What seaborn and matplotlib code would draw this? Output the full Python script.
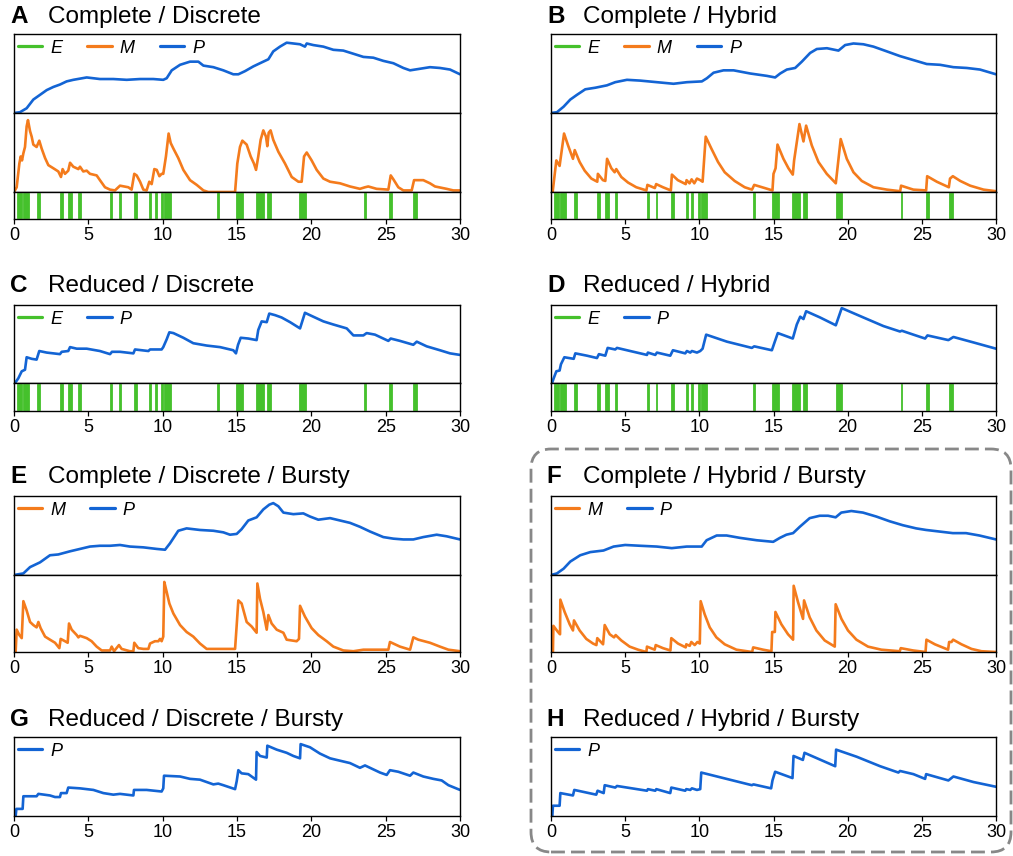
import matplotlib
matplotlib.use("Agg")
import matplotlib.pyplot as plt
import seaborn as sns
from matplotlib.lines import Line2D
from matplotlib.patches import FancyBboxPatch

# ---------------- data (time in h, values in % of axis height) ----------------
EVENT_START = [0.18, 0.58, 1.57, 3.09, 3.63, 4.33, 6.46, 7.06, 8.09, 9.10, 9.46, 9.89, 10.09,
               13.65, 14.93, 16.28, 17.02, 19.20, 23.57, 25.25, 26.82]
EVENT_END = [0.52, 0.99, 1.75, 3.27, 3.90, 4.48, 6.61, 7.17, 8.27, 9.21, 9.60, 10.04, 10.54,
             13.77, 15.38, 16.79, 17.26, 19.64, 23.68, 25.45, 27.13]

A_P_t = [0, 0.40, 0.85, 1.30, 1.75, 2.20, 2.65, 3.09, 3.54, 3.99, 4.89, 5.78, 6.68, 7.58, 8.48, 9.37,
         10.04, 10.27, 10.61, 11.17, 11.84, 12.40, 12.74, 13.41, 14.08, 14.75, 15.09, 15.54, 16.10,
         16.77, 17.11, 17.44, 17.89, 18.34, 18.79, 19.24, 19.57, 19.69, 20.13, 20.81, 21.48, 22.15,
         22.83, 23.50, 24.17, 24.84, 25.52, 26.19, 26.64, 27.31, 27.98, 28.65, 29.33, 30.00]
A_P_v = [0, 1, 6, 17, 23, 29, 33, 36, 40, 42, 45, 43, 43, 42, 43, 43, 42, 44, 54, 61, 65, 65, 60, 58,
         54, 49, 49, 53, 59, 65, 68, 78, 84, 89, 88, 87, 84, 88, 86, 84, 80, 79, 75, 71, 70, 66, 63,
         57, 54, 56, 58, 57, 55, 49]

A_M_t = [0, 0.18, 0.36, 0.45, 0.54, 0.63, 0.74, 0.85, 0.94, 1.08, 1.19, 1.30, 1.52, 1.70, 1.86, 2.09,
         2.31, 2.65, 2.98, 3.16, 3.27, 3.43, 3.65, 3.77, 3.99, 4.33, 4.44, 4.66, 4.89, 5.11, 5.56,
         5.78, 6.12, 6.46, 6.79, 7.13, 7.69, 7.91, 8.09, 8.25, 8.48, 8.70, 8.92, 9.10, 9.26, 9.44,
         9.60, 9.78, 9.93, 10.04, 10.22, 10.40, 10.54, 10.72, 11.05, 11.39, 11.84, 12.29, 12.74,
         13.07, 14.87, 15.02, 15.20, 15.36, 15.65, 15.92, 16.14, 16.28, 16.43, 16.59, 16.77, 16.95,
         17.04, 17.13, 17.26, 17.44, 17.78, 18.23, 18.68, 19.13, 19.35, 19.51, 19.69, 20.02, 20.36,
         20.81, 21.26, 21.93, 22.60, 23.27, 23.61, 23.83, 24.39, 25.18, 25.34, 25.52, 25.85, 26.19,
         26.75, 26.91, 27.53, 27.98, 28.32, 29.10, 29.55, 30.00]
A_M_v = [0, 6, 36, 45, 40, 49, 57, 83, 91, 77, 70, 60, 57, 65, 55, 43, 34, 30, 26, 19, 29, 23, 27, 37,
         32, 29, 32, 26, 27, 23, 21, 15, 6, 3, 2, 8, 6, 3, 23, 21, 13, 3, 2, 13, 10, 29, 28, 20, 23,
         23, 45, 74, 62, 55, 43, 28, 15, 9, 2, 0, 0, 36, 57, 65, 60, 45, 36, 28, 45, 66, 78, 70, 58,
         75, 78, 66, 51, 36, 19, 13, 13, 45, 50, 40, 28, 17, 13, 11, 7, 4, 6, 7, 4, 3, 21, 16, 6, 2,
         2, 15, 15, 11, 7, 4, 2, 2]

B_P_t = [0, 0.40, 0.85, 1.30, 1.75, 2.31, 2.99, 3.77, 4.33, 5.12, 6.02, 7.14, 8.26, 9.16, 10.17, 10.51,
         10.96, 11.63, 12.31, 13.43, 14.55, 15.11, 15.45, 15.90, 16.46, 16.91, 17.47, 17.92, 18.60,
         19.38, 19.83, 20.39, 21.06, 21.74, 22.64, 23.53, 24.43, 25.33, 26.23, 27.13, 28.03, 28.92,
         30.00]
B_P_v = [0, 1, 8, 17, 23, 30, 32, 35, 39, 42, 41, 39, 37, 39, 40, 44, 51, 54, 54, 50, 47, 45, 50, 55,
         57, 65, 76, 81, 82, 79, 86, 88, 87, 84, 78, 72, 67, 62, 61, 58, 57, 55, 49]

B_M_t = [0, 0.11, 0.36, 0.58, 0.88, 1.15, 1.48, 1.60, 1.93, 2.27, 2.72, 3.12, 3.16, 3.50, 3.66, 3.78,
         4.07, 4.29, 4.40, 4.74, 5.19, 5.75, 6.43, 6.50, 7.00, 7.09, 7.55, 8.08, 8.15, 8.55, 9.08,
         9.14, 9.34, 9.48, 9.66, 9.84, 10.06, 10.22, 10.43, 10.81, 11.26, 11.71, 12.38, 13.06, 13.55,
         13.70, 14.41, 14.93, 15.00, 15.14, 15.27, 15.67, 16.01, 16.30, 16.39, 16.75, 17.02, 17.20,
         17.58, 18.03, 18.59, 19.20, 19.53, 19.94, 20.39, 20.95, 21.74, 22.64, 23.54, 23.60, 24.43,
         25.29, 25.36, 26.01, 26.82, 26.90, 27.09, 27.59, 28.26, 29.16, 30.00]
B_M_v = [0, 0, 40, 33, 74, 59, 42, 53, 38, 27, 17, 13, 23, 15, 14, 42, 30, 25, 29, 19, 12, 6, 2, 9, 5,
         10, 6, 2, 22, 15, 10, 15, 11, 16, 11, 17, 15, 13, 70, 55, 38, 25, 14, 6, 3, 9, 5, 2, 23, 30,
         60, 42, 30, 22, 40, 86, 64, 84, 59, 38, 23, 11, 67, 42, 25, 14, 6, 3, 1, 8, 3, 2, 20, 13, 6,
         17, 20, 14, 8, 3, 1]

C_P_t = [0, 0.07, 0.29, 0.52, 0.74, 0.85, 1.19, 1.52, 1.70, 2.20, 3.09, 3.21, 3.65, 3.77, 4.22, 4.89,
         5.78, 6.46, 6.59, 7.13, 8.03, 8.14, 9.04, 9.15, 9.93, 10.04, 10.27, 10.45, 10.72, 11.39,
         12.06, 12.96, 13.86, 14.75, 14.93, 15.07, 15.25, 15.76, 16.32, 16.43, 16.66, 17.00, 17.17,
         17.56, 18.00, 18.57, 19.24, 19.57, 20.13, 20.81, 21.48, 22.38, 22.83, 23.50, 23.72, 24.28,
         24.84, 25.18, 25.34, 25.96, 26.86, 27.09, 27.76, 28.65, 29.33, 30.00]
C_P_v = [0, 0, 6, 15, 17, 33, 31, 30, 41, 39, 37, 40, 41, 46, 44, 44, 41, 37, 40, 40, 38, 43, 41, 43,
         43, 46, 56, 65, 64, 58, 51, 48, 46, 42, 38, 49, 58, 57, 55, 68, 79, 78, 89, 87, 84, 78, 70,
         90, 85, 79, 75, 70, 61, 61, 64, 62, 57, 54, 57, 54, 49, 53, 47, 42, 38, 36]

D_P_t = [0, 0.07, 0.18, 0.36, 0.58, 0.67, 0.90, 1.53, 1.64, 2.43, 3.10, 3.23, 3.66, 3.82, 4.33, 4.45,
         5.34, 6.47, 6.53, 7.03, 7.14, 8.04, 8.22, 9.05, 9.16, 9.39, 9.50, 9.84, 10.06, 10.22, 10.46,
         11.86, 13.54, 13.70, 14.89, 15.07, 15.29, 16.30, 16.57, 16.80, 17.02, 17.20, 18.14, 19.20,
         19.60, 21.06, 22.41, 23.53, 23.65, 24.43, 25.22, 25.38, 26.79, 27.13, 28.48, 30.00]
D_P_v = [0, 0, 6, 15, 16, 24, 33, 31, 38, 35, 32, 37, 35, 45, 43, 45, 41, 36, 39, 36, 39, 35, 42, 38,
         41, 39, 41, 39, 41, 44, 62, 53, 45, 47, 42, 52, 64, 57, 75, 85, 82, 92, 84, 74, 96, 84, 73,
         66, 67, 62, 57, 61, 55, 59, 52, 44]

E_P_t = [0, 0.63, 1.08, 1.75, 2.42, 2.98, 3.77, 4.44, 5.11, 5.78, 6.46, 7.13, 7.80, 8.70, 9.60, 10.16,
         10.49, 11.05, 11.61, 12.51, 13.41, 14.08, 14.53, 14.98, 15.31, 15.76, 16.32, 16.77, 17.17,
         17.44, 17.78, 18.12, 18.79, 19.46, 19.91, 20.47, 21.26, 21.93, 22.60, 23.27, 23.95, 24.84,
         25.52, 26.19, 26.86, 27.53, 28.43, 29.10, 30.00]
E_P_v = [0, 2, 10, 16, 25, 26, 30, 33, 36, 37, 37, 38, 36, 35, 33, 32, 40, 56, 59, 57, 56, 54, 51, 52,
         58, 69, 73, 83, 89, 91, 87, 79, 77, 78, 74, 70, 72, 69, 66, 61, 55, 48, 46, 45, 45, 48, 51,
         49, 45]

E_M_t = [0, 0.11, 0.18, 0.36, 0.52, 0.63, 0.85, 1.08, 1.30, 1.52, 1.64, 1.79, 2.09, 2.42, 2.76, 3.05,
         3.14, 3.43, 3.61, 3.70, 3.88, 4.22, 4.33, 4.44, 4.89, 5.22, 5.56, 5.90, 6.46, 6.57, 6.73,
         7.06, 7.24, 7.80, 8.03, 8.09, 8.36, 8.70, 9.04, 9.15, 9.48, 9.71, 9.82, 9.93, 10.04, 10.11,
         10.27, 10.45, 10.72, 11.17, 11.61, 12.06, 12.51, 12.96, 13.63, 14.87, 14.98, 15.09, 15.31,
         15.65, 15.99, 16.32, 16.37, 16.55, 16.77, 17.00, 17.11, 17.33, 17.67, 18.12, 18.34, 19.01,
         19.17, 19.24, 19.57, 20.02, 20.47, 21.03, 21.48, 22.15, 22.83, 23.50, 25.18, 25.29, 25.96,
         26.64, 26.86, 27.20, 27.98, 28.65, 29.22, 30.00]
E_M_v = [0, 0, 29, 22, 18, 66, 54, 39, 35, 32, 39, 31, 20, 16, 12, 5, 17, 14, 12, 37, 29, 22, 19, 21,
         18, 14, 7, 2, 2, 7, 1, 9, 4, 1, 1, 12, 5, 4, 4, 11, 14, 14, 17, 14, 20, 91, 78, 63, 50, 35,
         26, 20, 11, 4, 4, 4, 35, 67, 63, 39, 33, 25, 89, 69, 52, 29, 48, 37, 29, 25, 16, 14, 17, 60,
         46, 31, 22, 14, 7, 2, 1, 3, 3, 13, 7, 3, 19, 16, 12, 7, 3, 1]

F_P_t = [0, 0.40, 0.85, 1.30, 1.97, 2.65, 3.54, 4.22, 5.00, 6.01, 7.13, 8.14, 9.15, 10.16, 10.49,
         11.17, 11.84, 12.74, 13.86, 14.98, 15.43, 15.87, 16.32, 16.77, 17.44, 18.12, 18.68, 19.19,
         19.57, 20.25, 21.03, 21.93, 22.83, 23.72, 24.62, 25.29, 26.19, 27.09, 27.98, 28.88, 30.00]
F_P_v = [0, 2, 8, 17, 25, 29, 31, 36, 38, 37, 36, 34, 36, 36, 44, 50, 50, 47, 44, 42, 47, 51, 53, 61,
         72, 75, 75, 73, 79, 81, 79, 74, 68, 63, 59, 57, 55, 53, 53, 50, 45]

F_M_t = [0, 0.13, 0.16, 0.47, 0.61, 0.63, 0.92, 1.26, 1.48, 1.55, 1.93, 2.38, 2.83, 3.06, 3.12, 3.51,
         3.62, 3.96, 4.25, 4.36, 4.74, 5.30, 5.87, 6.43, 6.47, 6.99, 7.06, 7.55, 8.05, 8.11, 8.56,
         9.08, 9.12, 9.35, 9.46, 9.69, 9.87, 10.03, 10.09, 10.36, 10.70, 11.15, 11.71, 12.50, 13.56,
         13.63, 14.30, 14.86, 14.91, 15.09, 15.13, 15.53, 15.98, 16.32, 16.36, 16.65, 16.99, 17.06,
         17.44, 17.89, 18.45, 19.13, 19.19, 19.58, 20.02, 20.59, 21.37, 22.27, 23.51, 23.58, 24.41,
         25.25, 25.31, 25.88, 26.77, 26.84, 27.00, 27.11, 27.67, 28.35, 29.02, 30.00]
F_M_v = [0, 0, 34, 26, 23, 68, 52, 36, 28, 41, 28, 17, 11, 9, 18, 10, 35, 23, 19, 22, 15, 7, 3, 0, 7,
         3, 9, 5, 2, 18, 11, 6, 10, 8, 13, 9, 13, 11, 66, 49, 32, 19, 10, 3, 0, 6, 3, 1, 26, 26, 52,
         36, 23, 16, 86, 65, 43, 67, 45, 28, 15, 7, 62, 43, 28, 16, 7, 3, 1, 5, 2, 0, 16, 10, 3, 13,
         13, 16, 10, 4, 1, 0]

G_P_t = [0, 0.11, 0.16, 0.58, 0.63, 1.52, 1.64, 2.42, 2.76, 3.09, 3.16, 3.54, 3.65, 4.44, 5.34, 6.01,
         6.68, 7.13, 8.03, 8.07, 8.92, 9.93, 10.04, 10.09, 11.17, 11.84, 12.51, 13.41, 13.74, 14.08,
         14.87, 14.98, 15.09, 15.31, 15.76, 16.28, 16.32, 16.55, 17.00, 17.04, 17.67, 18.34, 18.79,
         19.24, 19.28, 19.91, 20.58, 21.26, 21.70, 22.60, 23.27, 23.61, 24.17, 24.62, 25.07, 25.29,
         25.85, 26.64, 26.86, 27.53, 28.21, 28.77, 29.22, 30.00]
G_P_v = [0, 0, 9, 9, 25, 25, 28, 26, 24, 24, 29, 29, 36, 35, 33, 29, 27, 28, 26, 33, 33, 31, 35, 51,
         50, 47, 46, 40, 41, 39, 34, 44, 58, 54, 53, 46, 81, 76, 74, 89, 84, 80, 76, 73, 91, 87, 79,
         73, 71, 67, 61, 64, 59, 55, 52, 58, 56, 51, 55, 50, 47, 45, 39, 33]

H_P_t = [0, 0.09, 0.13, 0.58, 0.63, 1.48, 1.57, 3.05, 3.14, 3.55, 3.62, 4.33, 4.45, 6.47, 6.53, 7.03,
         7.10, 8.04, 8.11, 9.05, 9.12, 9.39, 9.50, 9.84, 10.06, 10.13, 13.54, 13.65, 14.84, 14.93,
         15.11, 16.28, 16.35, 16.98, 17.09, 19.16, 19.22, 20.61, 22.19, 23.42, 23.53, 24.43, 25.22,
         25.29, 26.79, 27.13, 28.48, 30.00]
H_P_v = [0, 0, 13, 13, 29, 26, 33, 27, 32, 29, 39, 36, 38, 32, 34, 32, 34, 29, 36, 32, 34, 33, 35, 33,
         34, 55, 39, 40, 35, 45, 56, 48, 76, 71, 80, 63, 84, 75, 63, 55, 57, 53, 47, 53, 45, 50, 43, 37]

XTICKS = [0, 5, 10, 15, 20, 25, 30]

# ---------------- styling ----------------
sns.set_style("white")
plt.rcParams["font.family"] = ["Liberation Sans", "DejaVu Sans"]
plt.rcParams["text.color"] = "black"
plt.rcParams["xtick.color"] = "black"
plt.rcParams["xtick.labelcolor"] = "black"

BLUE = "#1364d4"
ORANGE = "#f47b1c"
GREEN = "#45c12c"
LW = 1.9

W, H = 1013, 856
fig = plt.figure(figsize=(W / 100, H / 100), dpi=100)


def add_ax(x0, x1, ytop, ybot):
    ax = fig.add_axes([x0 / W, 1 - ybot / H, (x1 - x0) / W, (ybot - ytop) / H])
    ax.set_xlim(0, 30)
    ax.set_yticks([])
    for s in ax.spines.values():
        s.set_color("black")
        s.set_linewidth(1.0)
    return ax


def line(ax, t, v, color):
    sns.lineplot(x=t, y=v, ax=ax, color=color, lw=LW, estimator=None, sort=False, legend=False)
    ax.set_ylim(0, 100)
    ax.set_xlim(0, 30)


def strip(ax):
    for s, e in zip(EVENT_START, EVENT_END):
        ax.axvspan(s, e, ymin=0.05, ymax=0.95, color=GREEN, lw=0.6)
    ax.set_ylim(0, 1)


def bottom_ticks(ax):
    ax.set_xticks(XTICKS)
    ax.set_xticklabels([str(x) for x in XTICKS])
    ax.tick_params(axis="x", bottom=True, length=3.5, width=0.9, pad=2, labelsize=13,
                   color="black", labelcolor="black")


def no_ticks(ax):
    ax.set_xticks([])


def legend(ax, names):
    cmap = {"E": GREEN, "M": ORANGE, "P": BLUE}
    handles = [Line2D([], [], color=cmap[n], lw=2.3) for n in names]
    ax.legend(handles, names, loc="center left", bbox_to_anchor=(0.008, 0.82), frameon=False,
              ncol=len(names), handlelength=1.35, handletextpad=0.45, columnspacing=1.4,
              borderpad=0.0, borderaxespad=0.0, labelcolor="black",
              prop={"style": "italic", "size": 13})


def title(x_letter, x_text, y, letter, text):
    fig.text(x_letter / W, 1 - y / H, letter, fontsize=17.5, fontweight="bold", va="baseline",
             color="black")
    fig.text(x_text / W, 1 - y / H, text, fontsize=17.5, va="baseline", color="black")


LX0, LX1 = 14, 460
RX0, RX1 = 551, 996

# Row 1 (A, B)
for (x0, x1, Pt, Pv, Mt, Mv) in [(LX0, LX1, A_P_t, A_P_v, A_M_t, A_M_v),
                                 (RX0, RX1, B_P_t, B_P_v, B_M_t, B_M_v)]:
    axp = add_ax(x0, x1, 34, 113)
    line(axp, Pt, Pv, BLUE)
    no_ticks(axp)
    legend(axp, ["E", "M", "P"])
    axm = add_ax(x0, x1, 113, 192)
    line(axm, Mt, Mv, ORANGE)
    no_ticks(axm)
    axe = add_ax(x0, x1, 192, 219)
    strip(axe)
    bottom_ticks(axe)

# Row 2 (C, D)
for (x0, x1, Pt, Pv) in [(LX0, LX1, C_P_t, C_P_v), (RX0, RX1, D_P_t, D_P_v)]:
    axp = add_ax(x0, x1, 305, 383)
    line(axp, Pt, Pv, BLUE)
    no_ticks(axp)
    legend(axp, ["E", "P"])
    axe = add_ax(x0, x1, 383, 411)
    strip(axe)
    bottom_ticks(axe)

# Row 3 (E, F)
for (x0, x1, Pt, Pv, Mt, Mv) in [(LX0, LX1, E_P_t, E_P_v, E_M_t, E_M_v),
                                 (RX0, RX1, F_P_t, F_P_v, F_M_t, F_M_v)]:
    axp = add_ax(x0, x1, 496, 575)
    line(axp, Pt, Pv, BLUE)
    no_ticks(axp)
    legend(axp, ["M", "P"])
    axm = add_ax(x0, x1, 575, 652)
    line(axm, Mt, Mv, ORANGE)
    bottom_ticks(axm)

# Row 4 (G, H)
for (x0, x1, Pt, Pv) in [(LX0, LX1, G_P_t, G_P_v), (RX0, RX1, H_P_t, H_P_v)]:
    axp = add_ax(x0, x1, 737, 816)
    line(axp, Pt, Pv, BLUE)
    legend(axp, ["P"])
    bottom_ticks(axp)

# Titles
title(10, 48, 22.7, "A", "Complete / Discrete")
title(547, 583, 22.7, "B", "Complete / Hybrid")
title(10, 48, 292, "C", "Reduced / Discrete")
title(547, 583, 292, "D", "Reduced / Hybrid")
title(10, 48, 483, "E", "Complete / Discrete / Bursty")
title(546, 583, 483, "F", "Complete / Hybrid / Bursty")
title(10, 48, 726, "G", "Reduced / Discrete / Bursty")
title(546, 583, 726, "H", "Reduced / Hybrid / Bursty")

# Dashed rounded frame around F and H
box = FancyBboxPatch((5.31, 0.04), 4.80, 4.03, boxstyle="round,pad=0,rounding_size=0.2",
                     transform=fig.dpi_scale_trans, fill=False, edgecolor="#888888",
                     linewidth=2.0, linestyle=(0, (5.0, 2.2)))
fig.patches.append(box)

fig.savefig("out.png", dpi=100)
